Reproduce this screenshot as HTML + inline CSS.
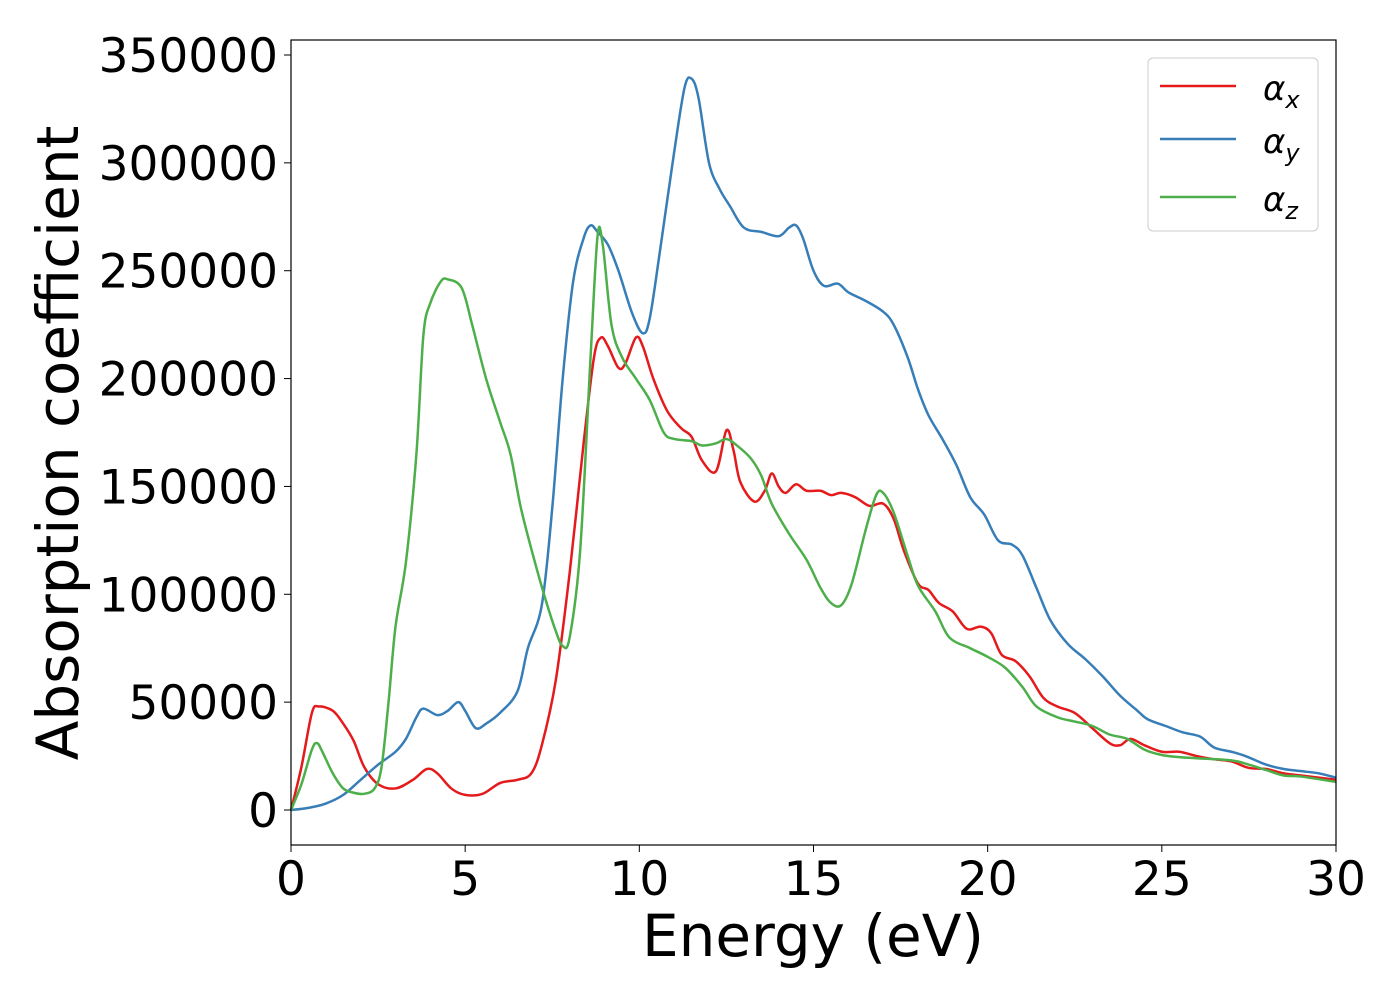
<!DOCTYPE html>
<html><head><meta charset="utf-8"><style>
html,body{margin:0;padding:0;background:#fff;}
svg{display:block;font-family:"DejaVu Sans","Liberation Sans",sans-serif;}
</style></head><body>
<svg id="chart" width="1400" height="1000" viewBox="0 0 1400 1000">
<g id="series"></g>
<rect x="291" y="40" width="1045" height="805" fill="none" stroke="#000" stroke-width="1.2"/>
<g id="xticks"></g>
<g id="yticks"></g>
<text x="813" y="956" font-size="58" text-anchor="middle">Energy (eV)</text>
<text transform="translate(78,443) rotate(-90)" font-size="58" text-anchor="middle">Absorption coefficient</text>
<g>
<rect x="1148" y="58" width="170" height="173" rx="5" fill="#fff" stroke="#ccc" stroke-width="1"/>
<g><line x1="1160" y1="86" x2="1236" y2="86" stroke="#e41a1c" stroke-width="2.5"/><text x="1263" y="100" font-size="34" font-style="italic">α<tspan font-size="24" dy="8">x</tspan></text></g>
<g><line x1="1160" y1="139" x2="1236" y2="139" stroke="#377eb8" stroke-width="2.5"/><text x="1263" y="153" font-size="34" font-style="italic">α<tspan font-size="24" dy="8">y</tspan></text></g>
<g><line x1="1160" y1="197" x2="1236" y2="197" stroke="#4daf4a" stroke-width="2.5"/><text x="1263" y="211" font-size="34" font-style="italic">α<tspan font-size="24" dy="8">z</tspan></text></g>
</g>
</svg>
<script>
const xTicks=[0,5,10,15,20,25,30];
const yTicks=[0,50000,100000,150000,200000,250000,300000,350000];
const redE=[0,0.3,0.6,0.8,1.2,1.5,1.8,2.1,2.5,3,3.5,3.9,4.2,4.6,5,5.5,6,6.5,6.9,7.2,7.6,8,8.4,8.7,8.9,9.1,9.4,9.6,9.9,10.1,10.4,10.8,11.2,11.5,11.8,12.2,12.5,12.7,12.9,13.3,13.6,13.8,14,14.2,14.5,14.8,15.2,15.5,15.8,16.2,16.6,17,17.3,17.6,18,18.3,18.6,19,19.4,19.8,20.1,20.4,20.8,21.2,21.6,22,22.5,23,23.5,23.8,24.1,24.5,25,25.5,26,26.5,27,27.5,28,28.5,29,30];
const redV=[0,20000,45000,48000,46000,40000,32000,20000,12000,10000,14000,19000,17000,10000,7000,7500,12500,14000,17000,30000,60000,110000,170000,210000,219000,215000,205000,207000,219000,215000,200000,185000,177000,173000,162000,157000,176000,167000,152000,143000,148000,156000,150000,147000,151000,148000,148000,146000,147000,145000,141000,142000,135000,120000,105000,102000,96000,92000,84000,85000,82000,72000,69000,62000,52000,48000,45000,38000,31000,30000,33000,30000,27000,27000,25000,23500,22500,19500,19000,17000,16000,14000];
const blueE=[0,0.5,1,1.5,2,2.5,3,3.3,3.6,3.8,4.2,4.5,4.8,5,5.3,5.6,6,6.5,6.8,7.2,7.5,7.8,8.1,8.4,8.6,8.8,9.1,9.4,9.8,10.1,10.3,10.6,11,11.3,11.5,11.7,12,12.3,12.6,13,13.5,14,14.3,14.5,14.7,15,15.3,15.7,16,16.5,17,17.3,17.7,18,18.3,18.7,19.1,19.5,19.9,20.3,20.7,21,21.4,21.8,22.3,22.8,23.3,23.8,24.3,24.6,25.1,25.6,26.1,26.5,27,27.4,28,28.5,29,29.5,30];
const blueV=[0,1000,3000,7000,14000,21000,27000,33000,43000,47000,44000,46000,50000,46000,38000,40000,45000,55000,75000,95000,140000,200000,245000,265000,271000,268000,262000,250000,230000,221000,228000,260000,305000,335000,339000,330000,300000,288000,280000,270000,268000,266000,270000,271000,265000,250000,243000,244000,240000,236000,231000,225000,210000,195000,183000,172000,160000,145000,137000,125000,123000,118000,103000,88000,77000,70000,62000,53000,46000,42000,39000,36000,34000,29000,27000,25000,21000,19000,18000,17000,15000];
const greenE=[0,0.3,0.6,0.75,0.9,1.2,1.5,1.8,2.1,2.4,2.6,2.8,3,3.3,3.6,3.8,4,4.3,4.5,4.9,5.2,5.6,6,6.3,6.6,7,7.3,7.6,7.8,8,8.3,8.6,8.8,8.95,9.2,9.5,9.9,10.3,10.7,11,11.5,11.8,12.2,12.5,12.8,13.2,13.5,13.8,14.3,14.8,15.2,15.5,15.8,16.1,16.5,16.8,17,17.3,17.7,18,18.5,18.9,19.5,20,20.5,21,21.4,22,22.5,23,23.5,24,24.5,25,25.5,26,27,27.5,28,28.5,29,30];
const greenV=[0,12000,28000,31000,27000,17000,10000,8000,7500,10000,20000,50000,85000,115000,165000,220000,235000,245000,246000,242000,225000,200000,180000,165000,140000,115000,98000,83000,76000,80000,120000,210000,266000,262000,225000,210000,200000,190000,175000,172000,171000,169000,170000,172000,169000,163000,155000,142000,128000,116000,103000,96000,95000,105000,130000,146000,147000,138000,118000,104000,92000,80000,75000,71000,66000,57000,48000,43000,41000,39000,35000,33000,28000,25500,24500,24000,23000,21000,18500,16000,15500,13000];
const X=e=>291+e*(1045/30);
const Y=v=>810-v*(755/350000);
const NS="http://www.w3.org/2000/svg";
function pathFor(E,V){
  const p=E.map((e,i)=>[X(e),Y(V[i])]);
  let d="M"+p[0][0]+","+p[0][1];
  for(let i=0;i<p.length-1;i++){
    const p0=p[Math.max(i-1,0)],p1=p[i],p2=p[i+1],p3=p[Math.min(i+2,p.length-1)];
    const c1=[p1[0]+(p2[0]-p0[0])/6,p1[1]+(p2[1]-p0[1])/6];
    const c2=[p2[0]-(p3[0]-p1[0])/6,p2[1]-(p3[1]-p1[1])/6];
    d+=" C"+c1[0]+","+c1[1]+" "+c2[0]+","+c2[1]+" "+p2[0]+","+p2[1];
  }
  return d;
}
const g=document.getElementById("series");
[[redE,redV,"#e41a1c","series-alpha-x"],[blueE,blueV,"#377eb8","series-alpha-y"],[greenE,greenV,"#4daf4a","series-alpha-z"]].forEach(s=>{
  const el=document.createElementNS(NS,"path");
  el.setAttribute("d",pathFor(s[0],s[1]));
  el.setAttribute("fill","none");el.setAttribute("stroke",s[2]);el.setAttribute("stroke-width","2.5");
  
  
  g.appendChild(el);
});
const xg=document.getElementById("xticks");
xTicks.forEach(t=>{
  const l=document.createElementNS(NS,"line");
  l.setAttribute("x1",X(t));l.setAttribute("x2",X(t));l.setAttribute("y1",845);l.setAttribute("y2",852);l.setAttribute("stroke","#000");
  
  
  xg.appendChild(l);
  const tx=document.createElementNS(NS,"text");
  tx.setAttribute("x",X(t));tx.setAttribute("y",895);tx.setAttribute("font-size","47");tx.setAttribute("text-anchor","middle");
  tx.textContent=t;
  
  
  xg.appendChild(tx);
});
const yg=document.getElementById("yticks");
yTicks.forEach(t=>{
  const l=document.createElementNS(NS,"line");
  l.setAttribute("x1",284);l.setAttribute("x2",291);l.setAttribute("y1",Y(t));l.setAttribute("y2",Y(t));l.setAttribute("stroke","#000");
  
  
  yg.appendChild(l);
  const tx=document.createElementNS(NS,"text");
  tx.setAttribute("x",278);tx.setAttribute("y",Y(t)+17);tx.setAttribute("font-size","47");tx.setAttribute("text-anchor","end");
  tx.textContent=t;
  
  
  yg.appendChild(tx);
});
</script>
</body></html>
